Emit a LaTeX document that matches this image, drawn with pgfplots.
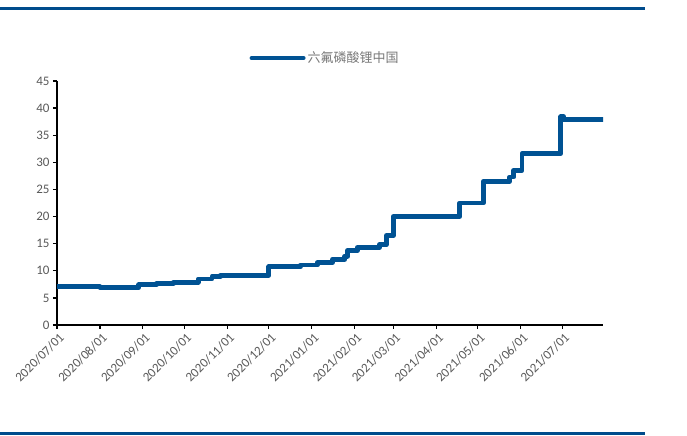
\documentclass[border=0pt]{standalone}
\usepackage{fontspec}
\setmainfont{Carlito}
\newfontfamily\cjk{Noto Sans CJK SC}
\usepackage{pgfplots}
\pgfplotsset{compat=1.18}
\definecolor{lineblue}{RGB}{0,82,147}
\definecolor{framebl}{RGB}{0,76,140}
\definecolor{tickgray}{RGB}{89,89,89}
\definecolor{leggray}{RGB}{120,120,120}
\begin{document}
\begin{tikzpicture}[x=1bp,y=1bp]
\path[use as bounding box] (0,0) rectangle (687,436);
% page rules
\draw[framebl, line width=2.5bp] (0,427.5) -- (645,427.5);
\draw[framebl, line width=2.5bp] (0,2.5) -- (645,2.5);
\begin{axis}[
  at={(57bp,111bp)}, anchor=south west,
  scale only axis, width=546bp, height=244bp,
  xmin=0, xmax=394.5, ymin=0, ymax=45,
  axis x line=bottom, axis y line=left,
  axis line style={-, line width=1.8bp, black},
  xtick={0,31,62,92,123,153,184,215,243,274,304,335,365},
  xticklabels={2020/07/01,2020/08/01,2020/09/01,2020/10/01,2020/11/01,2020/12/01,2021/01/01,2021/02/01,2021/03/01,2021/04/01,2021/05/01,2021/06/01,2021/07/01},
  x tick label style={rotate=45, anchor=north east, font=\fontsize{13bp}{15bp}\selectfont, text=tickgray, inner sep=3bp, xshift=2bp},
  ytick={0,5,...,45},
  y tick label style={font=\fontsize{13bp}{15bp}\selectfont, text=tickgray},
  tick style={black, line width=1.3bp},
  tick align=outside, major tick length=4bp,
  /pgf/number format/assume math mode=true,
  legend style={at={(0.491,1.094)}, anchor=center, draw=none, fill=none,
    font=\cjk\fontsize{13bp}{15bp}\selectfont, text=leggray},
  legend image code/.code={\draw[lineblue, line width=4bp] (0bp,0bp) -- (52bp,0bp);},
]
% LiPF6 price, China (10k CNY/t)
\addplot[const plot, lineblue, line width=4.8bp, line cap=round, line join=round] coordinates {
(0,7.05)(31,6.85)(59,7.4)(72,7.65)(84,7.9)(102,8.5)(112,8.95)(118,9.15)
(153,10.75)(176,11.05)(188,11.5)(199,12.1)(208,12.7)(210,13.7)(217,14.3)
(233,14.8)(238,16.5)(243,20.0)(291,22.5)(308,26.5)(327,27.3)(330,28.5)
(336,31.6)(364,38.4)(366,37.95)(394.5,37.95)
};
\legend{六氟磷酸锂中国}
\end{axis}
\end{tikzpicture}
\end{document}
